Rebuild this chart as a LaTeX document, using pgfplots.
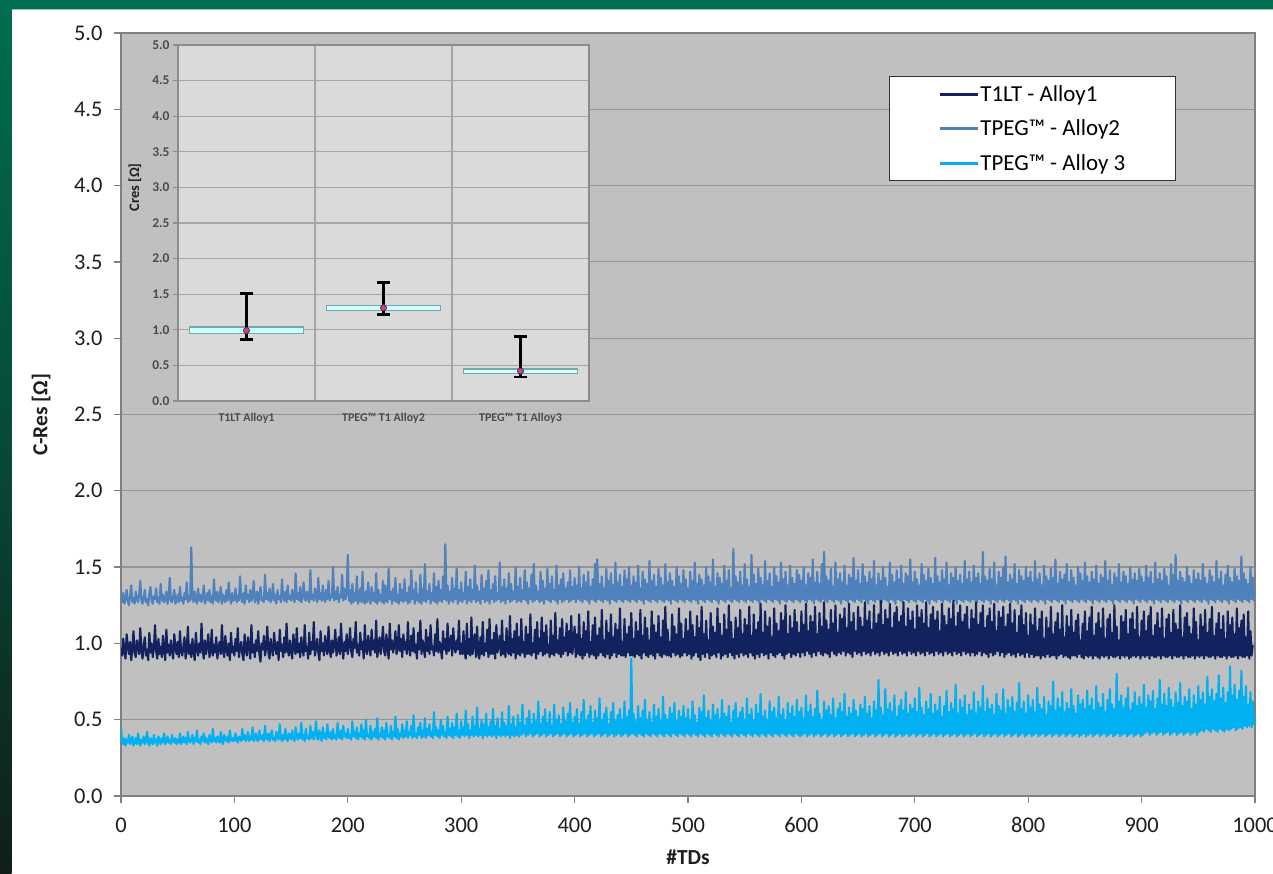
\documentclass[border=0pt]{standalone}
\usepackage{pgfplots}
\pgfplotsset{compat=1.18}
\usepackage{pgfplotstable}
\usepackage{fontspec}
\setmainfont{Carlito}

\definecolor{plotbg}{RGB}{192,192,192}
\definecolor{gridgray}{RGB}{148,148,148}
\definecolor{axisgray}{RGB}{128,128,128}
\definecolor{tickblack}{RGB}{30,30,30}
\definecolor{cone}{RGB}{18,34,94}
\definecolor{ctwo}{RGB}{79,129,189}
\definecolor{cthree}{RGB}{0,176,240}
\definecolor{insetbg}{RGB}{218,218,218}
\definecolor{insetborder}{RGB}{140,140,140}
\definecolor{insetgrid}{RGB}{165,165,165}
\definecolor{insettext}{RGB}{75,75,75}
\definecolor{boxfill}{RGB}{204,255,255}
\definecolor{boxborder}{RGB}{125,165,165}
\definecolor{meanred}{RGB}{255,70,0}
\definecolor{meanblue}{RGB}{40,60,200}
\definecolor{greenA}{RGB}{0,110,80}
\definecolor{greenB}{RGB}{16,30,26}
\definecolor{legendborder}{RGB}{50,50,50}

% Alloy2 (TPEG - Alloy2), one value per TD, x = 0,1,...,1000
\pgfplotstableread[row sep=\\, header=false]{
1.30\\1.27\\1.33\\1.26\\1.29\\1.35\\1.28\\1.25\\1.31\\1.38\\1.27\\1.30\\1.26\\1.34\\1.29\\1.27\\1.32\\1.41\\1.28\\1.26\\1.30\\1.35\\1.27\\1.29\\1.25\\1.33\\1.37\\1.28\\1.26\\1.31\\1.29\\1.36\\1.27\\1.30\\1.26\\1.39\\1.28\\1.32\\1.27\\1.29\\1.34\\1.26\\1.30\\1.43\\1.28\\1.27\\1.31\\1.35\\1.26\\1.29\\
1.32\\1.27\\1.37\\1.28\\1.30\\1.26\\1.33\\1.29\\1.40\\1.27\\1.31\\1.28\\1.63\\1.30\\1.27\\1.34\\1.29\\1.26\\1.36\\1.28\\1.32\\1.27\\1.30\\1.38\\1.26\\1.29\\1.33\\1.28\\1.35\\1.27\\1.31\\1.26\\1.42\\1.29\\1.28\\1.34\\1.27\\1.30\\1.37\\1.26\\1.32\\1.29\\1.27\\1.35\\1.28\\1.40\\1.30\\1.26\\1.33\\1.28\\
1.29\\1.36\\1.27\\1.31\\1.28\\1.44\\1.30\\1.27\\1.33\\1.26\\1.38\\1.29\\1.32\\1.27\\1.35\\1.28\\1.30\\1.41\\1.27\\1.29\\1.34\\1.26\\1.31\\1.37\\1.28\\1.30\\1.27\\1.45\\1.29\\1.33\\1.28\\1.36\\1.27\\1.30\\1.39\\1.28\\1.32\\1.26\\1.35\\1.29\\1.31\\1.27\\1.42\\1.30\\1.28\\1.34\\1.27\\1.38\\1.29\\1.31\\
1.28\\1.35\\1.30\\1.27\\1.46\\1.29\\1.33\\1.28\\1.37\\1.27\\1.31\\1.40\\1.29\\1.28\\1.34\\1.30\\1.27\\1.48\\1.29\\1.32\\1.28\\1.36\\1.30\\1.27\\1.43\\1.29\\1.33\\1.28\\1.38\\1.30\\1.27\\1.35\\1.29\\1.41\\1.28\\1.31\\1.30\\1.50\\1.28\\1.34\\1.29\\1.37\\1.27\\1.32\\1.30\\1.45\\1.28\\1.36\\1.29\\1.33\\
1.58\\1.28\\1.35\\1.26\\1.39\\1.27\\1.33\\1.28\\1.44\\1.26\\1.29\\1.36\\1.27\\1.47\\1.28\\1.26\\1.34\\1.27\\1.40\\1.29\\1.26\\1.37\\1.28\\1.33\\1.27\\1.46\\1.26\\1.35\\1.28\\1.32\\1.27\\1.41\\1.26\\1.38\\1.28\\1.27\\1.49\\1.29\\1.34\\1.26\\1.36\\1.28\\1.43\\1.27\\1.32\\1.26\\1.39\\1.28\\1.35\\1.27\\
1.42\\1.28\\1.33\\1.26\\1.37\\1.27\\1.48\\1.29\\1.35\\1.26\\1.40\\1.28\\1.32\\1.27\\1.45\\1.26\\1.36\\1.28\\1.52\\1.27\\1.34\\1.29\\1.39\\1.26\\1.33\\1.28\\1.46\\1.27\\1.37\\1.26\\1.41\\1.28\\1.35\\1.27\\1.44\\1.29\\1.65\\1.28\\1.38\\1.26\\1.34\\1.28\\1.43\\1.27\\1.36\\1.29\\1.49\\1.26\\1.35\\1.28\\
1.40\\1.27\\1.33\\1.29\\1.47\\1.26\\1.37\\1.28\\1.42\\1.27\\1.35\\1.29\\1.51\\1.27\\1.38\\1.28\\1.34\\1.26\\1.45\\1.29\\1.36\\1.27\\1.41\\1.28\\1.48\\1.26\\1.35\\1.29\\1.39\\1.27\\1.44\\1.28\\1.33\\1.29\\1.53\\1.27\\1.37\\1.28\\1.42\\1.26\\1.36\\1.29\\1.46\\1.27\\1.39\\1.28\\1.34\\1.29\\1.50\\1.27\\
1.37\\1.28\\1.43\\1.27\\1.35\\1.29\\1.48\\1.28\\1.40\\1.26\\1.36\\1.29\\1.45\\1.27\\1.52\\1.28\\1.38\\1.29\\1.34\\1.27\\1.47\\1.28\\1.41\\1.26\\1.36\\1.29\\1.49\\1.28\\1.39\\1.27\\1.44\\1.29\\1.35\\1.28\\1.51\\1.26\\1.38\\1.29\\1.42\\1.27\\1.46\\1.28\\1.36\\1.29\\1.40\\1.27\\1.48\\1.28\\1.37\\1.29\\
1.43\\1.27\\1.38\\1.29\\1.50\\1.28\\1.36\\1.27\\1.45\\1.29\\1.40\\1.28\\1.47\\1.26\\1.37\\1.29\\1.42\\1.28\\1.52\\1.27\\1.55\\1.29\\1.39\\1.28\\1.44\\1.27\\1.36\\1.29\\1.49\\1.28\\1.41\\1.26\\1.46\\1.29\\1.38\\1.28\\1.53\\1.27\\1.40\\1.29\\1.45\\1.28\\1.37\\1.27\\1.48\\1.29\\1.42\\1.28\\1.50\\1.27\\
1.38\\1.29\\1.44\\1.28\\1.40\\1.27\\1.51\\1.29\\1.36\\1.28\\1.47\\1.26\\1.42\\1.29\\1.39\\1.28\\1.54\\1.27\\1.41\\1.29\\1.45\\1.28\\1.37\\1.27\\1.49\\1.29\\1.43\\1.28\\1.38\\1.27\\1.52\\1.29\\1.40\\1.28\\1.46\\1.26\\1.41\\1.29\\1.37\\1.28\\1.50\\1.27\\1.44\\1.29\\1.39\\1.28\\1.48\\1.27\\1.42\\1.29\\
1.36\\1.28\\1.47\\1.27\\1.41\\1.29\\1.53\\1.28\\1.39\\1.26\\1.45\\1.29\\1.42\\1.28\\1.38\\1.27\\1.50\\1.29\\1.44\\1.28\\1.40\\1.27\\1.55\\1.29\\1.37\\1.28\\1.46\\1.26\\1.43\\1.29\\1.39\\1.28\\1.51\\1.27\\1.41\\1.29\\1.48\\1.28\\1.36\\1.27\\1.62\\1.29\\1.44\\1.28\\1.40\\1.27\\1.47\\1.29\\1.38\\1.28\\
1.52\\1.27\\1.42\\1.29\\1.37\\1.28\\1.58\\1.27\\1.45\\1.29\\1.39\\1.28\\1.49\\1.26\\1.43\\1.29\\1.38\\1.28\\1.54\\1.27\\1.41\\1.29\\1.46\\1.28\\1.37\\1.27\\1.50\\1.29\\1.44\\1.28\\1.40\\1.26\\1.53\\1.29\\1.42\\1.28\\1.47\\1.27\\1.38\\1.29\\1.51\\1.28\\1.43\\1.27\\1.39\\1.29\\1.48\\1.28\\1.45\\1.27\\
1.41\\1.29\\1.50\\1.28\\1.38\\1.27\\1.46\\1.29\\1.43\\1.28\\1.55\\1.26\\1.40\\1.29\\1.47\\1.28\\1.39\\1.27\\1.52\\1.29\\1.60\\1.28\\1.44\\1.27\\1.41\\1.29\\1.49\\1.28\\1.37\\1.27\\1.53\\1.29\\1.42\\1.28\\1.46\\1.26\\1.40\\1.29\\1.51\\1.28\\1.38\\1.27\\1.45\\1.29\\1.43\\1.28\\1.56\\1.27\\1.41\\1.29\\
1.48\\1.28\\1.39\\1.27\\1.52\\1.29\\1.44\\1.28\\1.40\\1.26\\1.47\\1.29\\1.42\\1.28\\1.54\\1.27\\1.38\\1.29\\1.46\\1.28\\1.41\\1.27\\1.50\\1.29\\1.43\\1.28\\1.37\\1.27\\1.53\\1.29\\1.45\\1.28\\1.40\\1.26\\1.48\\1.29\\1.42\\1.28\\1.51\\1.27\\1.39\\1.29\\1.46\\1.28\\1.44\\1.27\\1.55\\1.29\\1.40\\1.28\\
1.47\\1.27\\1.42\\1.29\\1.38\\1.28\\1.52\\1.27\\1.45\\1.29\\1.41\\1.28\\1.49\\1.26\\1.43\\1.29\\1.39\\1.28\\1.56\\1.27\\1.44\\1.29\\1.40\\1.28\\1.48\\1.27\\1.42\\1.29\\1.53\\1.28\\1.38\\1.27\\1.46\\1.29\\1.43\\1.28\\1.50\\1.26\\1.41\\1.29\\1.45\\1.28\\1.39\\1.27\\1.54\\1.29\\1.42\\1.28\\1.47\\1.27\\
1.40\\1.29\\1.51\\1.28\\1.43\\1.27\\1.46\\1.29\\1.39\\1.28\\1.60\\1.27\\1.44\\1.29\\1.41\\1.28\\1.49\\1.26\\1.42\\1.29\\1.53\\1.28\\1.38\\1.27\\1.47\\1.29\\1.43\\1.28\\1.50\\1.27\\1.57\\1.29\\1.40\\1.28\\1.45\\1.27\\1.42\\1.29\\1.52\\1.28\\1.39\\1.26\\1.48\\1.29\\1.44\\1.28\\1.41\\1.27\\1.50\\1.29\\
1.43\\1.28\\1.47\\1.27\\1.40\\1.29\\1.54\\1.28\\1.42\\1.27\\1.46\\1.29\\1.38\\1.28\\1.51\\1.26\\1.44\\1.29\\1.41\\1.28\\1.49\\1.27\\1.43\\1.29\\1.55\\1.28\\1.39\\1.27\\1.47\\1.29\\1.42\\1.28\\1.45\\1.26\\1.52\\1.29\\1.40\\1.28\\1.48\\1.27\\1.43\\1.29\\1.38\\1.28\\1.50\\1.27\\1.46\\1.29\\1.41\\1.28\\
1.53\\1.27\\1.44\\1.29\\1.40\\1.28\\1.47\\1.26\\1.42\\1.29\\1.51\\1.28\\1.39\\1.27\\1.45\\1.29\\1.43\\1.28\\1.54\\1.27\\1.41\\1.29\\1.48\\1.28\\1.38\\1.26\\1.46\\1.29\\1.43\\1.28\\1.52\\1.27\\1.40\\1.29\\1.47\\1.28\\1.44\\1.27\\1.39\\1.29\\1.50\\1.28\\1.42\\1.26\\1.46\\1.29\\1.41\\1.28\\1.49\\1.27\\
1.44\\1.29\\1.40\\1.28\\1.51\\1.27\\1.43\\1.29\\1.47\\1.28\\1.39\\1.26\\1.53\\1.29\\1.42\\1.28\\1.46\\1.27\\1.41\\1.29\\1.49\\1.28\\1.44\\1.27\\1.38\\1.29\\1.52\\1.28\\1.45\\1.27\\1.58\\1.29\\1.41\\1.28\\1.47\\1.26\\1.43\\1.29\\1.40\\1.28\\1.50\\1.27\\1.44\\1.29\\1.39\\1.28\\1.48\\1.27\\1.42\\1.29\\
1.46\\1.28\\1.41\\1.27\\1.52\\1.29\\1.43\\1.28\\1.39\\1.26\\1.48\\1.29\\1.44\\1.28\\1.40\\1.27\\1.54\\1.29\\1.42\\1.28\\1.47\\1.27\\1.38\\1.29\\1.45\\1.28\\1.51\\1.26\\1.43\\1.29\\1.40\\1.28\\1.49\\1.27\\1.44\\1.29\\1.41\\1.28\\1.57\\1.27\\1.46\\1.29\\1.42\\1.28\\1.39\\1.27\\1.50\\1.29\\1.43\\1.28\\
1.34\\
}\tabtwo

% Alloy1 (T1LT - Alloy1)
\pgfplotstableread[row sep=\\, header=false]{
0.97\\0.92\\1.03\\0.95\\0.90\\1.06\\0.98\\0.93\\1.01\\0.89\\0.96\\1.08\\0.94\\0.91\\1.02\\0.97\\0.93\\1.10\\0.95\\0.90\\0.99\\1.04\\0.92\\0.96\\0.89\\1.07\\0.94\\1.00\\0.91\\0.97\\1.12\\0.95\\0.90\\1.03\\0.93\\0.98\\0.91\\1.05\\0.96\\0.89\\1.09\\0.94\\0.99\\0.92\\1.02\\0.95\\0.90\\1.06\\0.97\\0.93\\
1.01\\0.91\\1.08\\0.95\\0.92\\0.98\\1.04\\0.90\\0.96\\1.11\\0.93\\0.99\\0.91\\1.03\\0.95\\0.89\\1.07\\0.97\\0.92\\1.00\\0.94\\1.13\\0.96\\0.90\\1.02\\0.93\\0.98\\1.06\\0.91\\0.95\\1.09\\0.92\\0.99\\0.94\\1.04\\0.90\\0.97\\1.01\\0.93\\1.12\\0.95\\0.91\\1.05\\0.96\\0.92\\1.00\\0.89\\1.07\\0.94\\0.98\\
0.92\\1.03\\0.95\\1.10\\0.91\\0.97\\1.01\\0.93\\0.89\\1.06\\0.96\\0.92\\1.04\\0.98\\0.90\\1.12\\0.94\\0.99\\0.91\\1.02\\0.95\\1.08\\0.93\\0.88\\1.00\\0.96\\1.05\\0.92\\0.97\\1.11\\0.94\\0.90\\1.03\\0.96\\0.92\\1.07\\0.98\\0.93\\1.01\\0.89\\1.09\\0.95\\0.99\\0.91\\1.04\\0.94\\1.13\\0.96\\0.92\\1.02\\
0.95\\0.90\\1.06\\0.97\\0.93\\1.10\\0.94\\1.00\\0.91\\1.04\\0.96\\0.92\\1.12\\0.95\\0.98\\0.90\\1.07\\0.93\\1.01\\0.96\\1.14\\0.92\\0.97\\1.03\\0.94\\0.89\\1.08\\0.95\\1.00\\0.92\\1.05\\0.97\\0.93\\1.11\\0.96\\0.91\\1.02\\0.94\\0.99\\1.09\\0.92\\0.96\\1.04\\0.93\\1.13\\0.97\\0.90\\1.01\\0.95\\1.06\\
0.93\\0.98\\1.10\\0.95\\0.91\\1.03\\0.97\\1.14\\0.94\\0.99\\0.92\\1.07\\0.96\\1.01\\0.90\\1.12\\0.95\\0.93\\1.05\\0.98\\0.92\\1.09\\0.96\\1.02\\0.94\\1.15\\0.91\\0.97\\1.04\\0.93\\1.00\\1.11\\0.95\\0.92\\1.06\\0.97\\0.90\\1.13\\0.96\\1.02\\0.94\\0.99\\1.08\\0.93\\0.97\\1.12\\0.95\\1.03\\0.91\\1.06\\
0.96\\1.01\\0.93\\1.14\\0.97\\0.92\\1.05\\0.95\\1.10\\0.94\\0.99\\0.90\\1.07\\0.96\\1.15\\0.93\\1.02\\0.97\\0.91\\1.09\\0.95\\1.04\\0.93\\1.12\\0.96\\0.98\\0.92\\1.06\\0.95\\1.16\\0.94\\1.01\\0.97\\0.90\\1.08\\0.96\\1.03\\0.93\\1.13\\0.95\\0.99\\1.05\\0.92\\1.10\\0.97\\0.94\\1.02\\0.96\\1.15\\0.93\\
1.00\\0.93\\1.08\\0.94\\0.90\\1.13\\0.93\\1.03\\0.92\\1.17\\0.93\\0.99\\1.06\\0.91\\1.11\\0.94\\0.90\\1.04\\0.93\\1.14\\0.92\\1.00\\0.95\\1.09\\0.91\\1.16\\0.93\\1.02\\0.93\\1.07\\0.90\\1.12\\0.94\\0.99\\1.05\\0.92\\1.15\\0.93\\1.01\\0.91\\1.10\\0.95\\0.93\\1.18\\0.92\\1.03\\0.94\\1.08\\0.90\\1.13\\
0.93\\1.04\\0.92\\1.16\\0.94\\1.01\\0.91\\1.11\\0.93\\1.06\\0.93\\1.19\\0.92\\1.00\\0.94\\1.09\\0.90\\1.14\\0.93\\1.03\\0.95\\1.17\\0.92\\1.07\\0.93\\1.12\\0.94\\0.99\\0.91\\1.15\\0.93\\1.05\\0.92\\1.20\\0.94\\1.02\\0.93\\1.10\\0.91\\1.16\\0.93\\1.04\\0.95\\1.13\\0.92\\1.08\\0.94\\1.18\\0.93\\1.01\\
1.11\\0.91\\1.06\\0.93\\1.19\\0.92\\1.03\\0.90\\1.14\\0.92\\1.08\\0.94\\1.21\\0.91\\1.01\\0.93\\1.12\\0.92\\1.17\\0.90\\1.05\\0.92\\1.10\\0.94\\1.22\\0.92\\1.02\\0.91\\1.15\\0.93\\1.07\\0.90\\1.19\\0.92\\1.04\\0.94\\1.13\\0.91\\1.09\\0.93\\1.23\\0.92\\1.01\\0.92\\1.16\\0.91\\1.06\\0.94\\1.11\\0.92\\
1.20\\0.92\\1.03\\0.91\\1.14\\0.93\\1.08\\0.92\\1.22\\0.90\\1.05\\0.94\\1.17\\0.92\\1.10\\0.91\\1.02\\0.93\\1.21\\0.92\\1.12\\0.90\\1.07\\0.94\\1.18\\0.92\\1.04\\0.91\\1.15\\0.93\\1.24\\0.92\\1.09\\0.92\\1.01\\0.91\\1.19\\0.94\\1.11\\0.92\\1.06\\0.93\\1.23\\0.91\\1.13\\0.92\\1.03\\0.94\\1.16\\0.92\\
1.08\\0.93\\1.21\\0.90\\1.12\\0.92\\1.04\\0.94\\1.18\\0.91\\1.10\\0.89\\1.24\\0.93\\1.06\\0.91\\1.15\\0.94\\1.02\\0.90\\1.20\\0.92\\1.11\\0.93\\1.07\\0.91\\1.23\\0.94\\1.13\\0.90\\1.05\\0.92\\1.19\\0.93\\1.09\\0.91\\1.25\\0.94\\1.14\\0.92\\1.03\\0.90\\1.17\\0.93\\1.10\\0.91\\1.22\\0.94\\1.06\\0.92\\
1.16\\0.93\\1.12\\0.91\\1.24\\0.94\\1.05\\0.92\\1.19\\0.90\\1.09\\0.93\\1.14\\0.91\\1.26\\0.94\\1.07\\0.92\\1.21\\0.93\\1.11\\0.90\\1.17\\0.94\\1.04\\0.92\\1.23\\0.91\\1.13\\0.93\\1.08\\0.94\\1.20\\0.92\\1.15\\0.90\\1.25\\0.93\\1.06\\0.94\\1.18\\0.91\\1.10\\0.93\\1.22\\0.92\\1.14\\0.94\\1.07\\0.91\\
1.21\\0.94\\1.12\\0.92\\1.26\\0.95\\1.08\\0.93\\1.18\\0.91\\1.14\\0.94\\1.24\\0.92\\1.06\\0.95\\1.20\\0.93\\1.11\\0.92\\1.27\\0.94\\1.15\\0.93\\1.09\\0.91\\1.22\\0.95\\1.13\\0.93\\1.25\\0.92\\1.07\\0.94\\1.19\\0.93\\1.16\\0.95\\1.23\\0.92\\1.10\\0.94\\1.26\\0.93\\1.14\\0.91\\1.20\\0.95\\1.08\\0.93\\
1.24\\0.94\\1.17\\0.92\\1.11\\0.95\\1.27\\0.93\\1.15\\0.94\\1.21\\0.92\\1.09\\0.95\\1.25\\0.93\\1.13\\0.94\\1.19\\0.92\\1.28\\0.95\\1.12\\0.93\\1.22\\0.94\\1.16\\0.92\\1.26\\0.95\\1.10\\0.93\\1.20\\0.94\\1.24\\0.92\\1.14\\0.95\\1.18\\0.93\\1.27\\0.94\\1.11\\0.92\\1.23\\0.95\\1.15\\0.93\\1.21\\0.94\\
1.09\\0.92\\1.25\\0.95\\1.17\\0.93\\1.22\\0.94\\1.13\\0.92\\1.27\\0.95\\1.10\\0.93\\1.19\\0.94\\1.24\\0.92\\1.15\\0.95\\1.21\\0.93\\1.08\\0.94\\1.26\\0.92\\1.18\\0.95\\1.12\\0.93\\1.23\\0.94\\1.16\\0.92\\1.28\\0.95\\1.11\\0.93\\1.20\\0.94\\1.25\\0.92\\1.14\\0.95\\1.19\\0.93\\1.24\\0.94\\1.09\\0.92\\
1.22\\0.94\\1.16\\0.92\\1.27\\0.93\\1.12\\0.95\\1.20\\0.92\\1.25\\0.94\\1.10\\0.93\\1.18\\0.91\\1.23\\0.94\\1.14\\0.92\\1.26\\0.93\\1.08\\0.95\\1.21\\0.92\\1.17\\0.94\\1.24\\0.91\\1.11\\0.93\\1.19\\0.94\\1.26\\0.92\\1.13\\0.93\\1.22\\0.91\\1.07\\0.94\\1.18\\0.92\\1.25\\0.93\\1.12\\0.91\\1.20\\0.94\\
1.05\\0.91\\1.19\\0.93\\1.12\\0.91\\1.23\\0.92\\1.08\\0.92\\1.16\\0.90\\1.21\\0.92\\1.03\\0.91\\1.17\\0.93\\1.10\\0.91\\1.24\\0.92\\1.06\\0.92\\1.14\\0.90\\1.20\\0.92\\1.09\\0.93\\1.25\\0.91\\1.04\\0.92\\1.18\\0.91\\1.11\\0.90\\1.22\\0.92\\1.07\\0.92\\1.15\\0.91\\1.19\\0.93\\1.02\\0.91\\1.13\\0.90\\
1.21\\0.92\\1.08\\0.91\\1.17\\0.92\\1.24\\0.90\\1.05\\0.92\\1.13\\0.91\\1.20\\0.90\\1.10\\0.92\\1.23\\0.91\\1.03\\0.92\\1.16\\0.90\\1.19\\0.92\\1.07\\0.91\\1.25\\0.91\\1.11\\0.92\\1.02\\0.90\\1.18\\0.92\\1.14\\0.91\\1.22\\0.92\\1.06\\0.90\\1.16\\0.91\\1.20\\0.92\\1.09\\0.91\\1.24\\0.92\\1.04\\0.90\\
1.15\\0.92\\1.21\\0.91\\1.08\\0.92\\1.18\\0.90\\1.24\\0.92\\1.05\\0.91\\1.12\\0.91\\1.20\\0.92\\1.10\\0.90\\1.23\\0.92\\1.03\\0.91\\1.16\\0.91\\1.19\\0.92\\1.07\\0.90\\1.22\\0.92\\1.13\\0.91\\1.09\\0.91\\1.25\\0.92\\1.04\\0.90\\1.17\\0.92\\1.20\\0.91\\1.11\\0.91\\1.06\\0.92\\1.23\\0.90\\1.14\\0.92\\
1.02\\0.91\\1.19\\0.92\\1.11\\0.90\\1.22\\0.92\\1.07\\0.91\\1.16\\0.91\\1.24\\0.92\\1.05\\0.90\\1.13\\0.92\\1.20\\0.91\\1.09\\0.91\\1.18\\0.92\\1.03\\0.90\\1.21\\0.92\\1.12\\0.91\\1.17\\0.91\\1.06\\0.92\\1.23\\0.90\\1.10\\0.92\\1.15\\0.91\\1.19\\0.91\\1.04\\0.92\\1.21\\0.90\\1.08\\0.92\\
0.99\\
}\tabone

% Alloy3 (TPEG - Alloy 3)
\pgfplotstableread[row sep=\\, header=false]{
0.45\\0.36\\0.34\\0.38\\0.33\\0.37\\0.35\\0.40\\0.34\\0.36\\0.39\\0.33\\0.35\\0.38\\0.34\\0.41\\0.36\\0.33\\0.37\\0.35\\0.39\\0.34\\0.36\\0.42\\0.35\\0.33\\0.38\\0.36\\0.34\\0.40\\0.35\\0.37\\0.33\\0.39\\0.36\\0.34\\0.38\\0.35\\0.41\\0.34\\0.36\\0.39\\0.35\\0.37\\0.34\\0.40\\0.36\\0.35\\0.38\\0.34\\
0.37\\0.35\\0.41\\0.34\\0.36\\0.39\\0.35\\0.38\\0.34\\0.42\\0.36\\0.35\\0.37\\0.40\\0.34\\0.38\\0.36\\0.43\\0.35\\0.37\\0.34\\0.39\\0.36\\0.41\\0.35\\0.38\\0.36\\0.34\\0.40\\0.37\\0.35\\0.44\\0.36\\0.38\\0.35\\0.39\\0.37\\0.35\\0.42\\0.36\\0.34\\0.40\\0.37\\0.36\\0.39\\0.35\\0.43\\0.37\\0.36\\0.38\\
0.36\\0.41\\0.37\\0.35\\0.39\\0.38\\0.36\\0.44\\0.37\\0.40\\0.36\\0.38\\0.42\\0.36\\0.39\\0.37\\0.45\\0.36\\0.38\\0.41\\0.37\\0.36\\0.43\\0.38\\0.37\\0.40\\0.36\\0.46\\0.38\\0.37\\0.41\\0.36\\0.39\\0.43\\0.37\\0.38\\0.36\\0.42\\0.39\\0.37\\0.47\\0.38\\0.36\\0.40\\0.37\\0.44\\0.38\\0.36\\0.41\\0.39\\
0.37\\0.43\\0.38\\0.36\\0.45\\0.39\\0.37\\0.41\\0.38\\0.48\\0.37\\0.40\\0.36\\0.44\\0.38\\0.39\\0.37\\0.46\\0.38\\0.42\\0.37\\0.40\\0.49\\0.38\\0.37\\0.43\\0.39\\0.36\\0.45\\0.38\\0.41\\0.37\\0.47\\0.39\\0.38\\0.42\\0.37\\0.44\\0.38\\0.40\\0.37\\0.48\\0.39\\0.38\\0.43\\0.37\\0.46\\0.39\\0.41\\0.38\\
0.44\\0.38\\0.40\\0.37\\0.49\\0.39\\0.42\\0.38\\0.45\\0.37\\0.41\\0.39\\0.47\\0.38\\0.43\\0.37\\0.50\\0.39\\0.40\\0.38\\0.46\\0.37\\0.42\\0.39\\0.44\\0.38\\0.51\\0.37\\0.41\\0.39\\0.45\\0.38\\0.43\\0.37\\0.48\\0.39\\0.40\\0.38\\0.46\\0.37\\0.42\\0.39\\0.52\\0.38\\0.44\\0.37\\0.41\\0.39\\0.47\\0.38\\
0.43\\0.39\\0.49\\0.38\\0.42\\0.40\\0.46\\0.38\\0.53\\0.39\\0.41\\0.38\\0.45\\0.40\\0.48\\0.38\\0.43\\0.39\\0.51\\0.38\\0.44\\0.40\\0.47\\0.39\\0.42\\0.38\\0.55\\0.40\\0.45\\0.39\\0.43\\0.38\\0.50\\0.40\\0.46\\0.39\\0.42\\0.38\\0.52\\0.40\\0.44\\0.39\\0.48\\0.38\\0.45\\0.40\\0.54\\0.39\\0.43\\0.38\\
0.49\\0.40\\0.45\\0.39\\0.56\\0.40\\0.47\\0.38\\0.43\\0.40\\0.52\\0.39\\0.46\\0.40\\0.58\\0.39\\0.44\\0.40\\0.50\\0.38\\0.47\\0.40\\0.54\\0.39\\0.45\\0.40\\0.49\\0.39\\0.57\\0.40\\0.46\\0.38\\0.51\\0.40\\0.44\\0.39\\0.55\\0.40\\0.48\\0.39\\0.46\\0.40\\0.59\\0.38\\0.47\\0.40\\0.52\\0.39\\0.45\\0.40\\
0.53\\0.39\\0.48\\0.40\\0.60\\0.41\\0.46\\0.39\\0.51\\0.40\\0.56\\0.41\\0.47\\0.39\\0.54\\0.40\\0.49\\0.41\\0.62\\0.39\\0.47\\0.40\\0.52\\0.41\\0.57\\0.39\\0.48\\0.40\\0.55\\0.41\\0.46\\0.39\\0.60\\0.40\\0.50\\0.41\\0.53\\0.39\\0.47\\0.40\\0.58\\0.41\\0.49\\0.39\\0.54\\0.40\\0.61\\0.41\\0.48\\0.39\\
0.52\\0.40\\0.57\\0.41\\0.47\\0.39\\0.55\\0.40\\0.63\\0.41\\0.49\\0.39\\0.53\\0.40\\0.59\\0.41\\0.48\\0.39\\0.56\\0.40\\0.51\\0.41\\0.64\\0.39\\0.50\\0.40\\0.54\\0.41\\0.58\\0.39\\0.47\\0.40\\0.55\\0.41\\0.61\\0.39\\0.49\\0.40\\0.53\\0.41\\0.57\\0.39\\0.50\\0.40\\0.62\\0.41\\0.52\\0.39\\0.56\\0.40\\
0.90\\0.41\\0.54\\0.40\\0.49\\0.39\\0.59\\0.41\\0.51\\0.40\\0.56\\0.39\\0.63\\0.41\\0.50\\0.40\\0.55\\0.39\\0.48\\0.41\\0.60\\0.40\\0.52\\0.39\\0.57\\0.41\\0.49\\0.40\\0.65\\0.39\\0.53\\0.41\\0.50\\0.40\\0.58\\0.39\\0.54\\0.41\\0.61\\0.40\\0.49\\0.39\\0.56\\0.41\\0.52\\0.40\\0.59\\0.39\\0.51\\0.41\\
0.57\\0.40\\0.50\\0.39\\0.62\\0.41\\0.53\\0.40\\0.48\\0.39\\0.58\\0.41\\0.55\\0.40\\0.66\\0.39\\0.51\\0.41\\0.56\\0.40\\0.49\\0.39\\0.60\\0.41\\0.53\\0.40\\0.57\\0.39\\0.50\\0.41\\0.63\\0.40\\0.54\\0.39\\0.52\\0.41\\0.59\\0.40\\0.48\\0.39\\0.56\\0.41\\0.61\\0.40\\0.51\\0.39\\0.55\\0.41\\0.58\\0.40\\
0.50\\0.39\\0.64\\0.41\\0.53\\0.40\\0.57\\0.39\\0.49\\0.41\\0.60\\0.40\\0.54\\0.39\\0.67\\0.41\\0.52\\0.40\\0.56\\0.39\\0.50\\0.41\\0.62\\0.40\\0.55\\0.39\\0.58\\0.41\\0.51\\0.40\\0.65\\0.39\\0.53\\0.41\\0.57\\0.40\\0.49\\0.39\\0.61\\0.41\\0.54\\0.40\\0.59\\0.39\\0.52\\0.41\\0.63\\0.40\\0.55\\0.39\\
0.58\\0.40\\0.51\\0.41\\0.66\\0.39\\0.55\\0.40\\0.60\\0.41\\0.52\\0.39\\0.57\\0.40\\0.69\\0.41\\0.54\\0.39\\0.50\\0.40\\0.62\\0.41\\0.56\\0.39\\0.59\\0.40\\0.53\\0.41\\0.64\\0.39\\0.51\\0.40\\0.57\\0.41\\0.61\\0.39\\0.55\\0.40\\0.67\\0.41\\0.52\\0.39\\0.58\\0.40\\0.54\\0.41\\0.63\\0.39\\0.56\\0.40\\
0.52\\0.41\\0.60\\0.39\\0.57\\0.40\\0.65\\0.41\\0.54\\0.39\\0.59\\0.40\\0.51\\0.41\\0.62\\0.39\\0.56\\0.40\\0.76\\0.41\\0.58\\0.39\\0.53\\0.40\\0.70\\0.41\\0.57\\0.39\\0.61\\0.40\\0.55\\0.41\\0.66\\0.39\\0.52\\0.40\\0.59\\0.41\\0.63\\0.39\\0.56\\0.40\\0.68\\0.41\\0.54\\0.39\\0.60\\0.40\\0.57\\0.41\\
0.64\\0.39\\0.55\\0.40\\0.71\\0.41\\0.58\\0.39\\0.53\\0.40\\0.62\\0.41\\0.57\\0.39\\0.67\\0.40\\0.54\\0.41\\0.60\\0.39\\0.56\\0.40\\0.65\\0.41\\0.52\\0.39\\0.59\\0.40\\0.69\\0.41\\0.55\\0.39\\0.61\\0.40\\0.57\\0.41\\0.73\\0.39\\0.54\\0.40\\0.63\\0.41\\0.58\\0.39\\0.66\\0.40\\0.53\\0.41\\0.60\\0.39\\
0.56\\0.40\\0.68\\0.41\\0.54\\0.39\\0.62\\0.40\\0.58\\0.41\\0.72\\0.39\\0.55\\0.40\\0.64\\0.41\\0.57\\0.39\\0.60\\0.40\\0.53\\0.41\\0.67\\0.39\\0.59\\0.40\\0.56\\0.41\\0.70\\0.39\\0.54\\0.40\\0.63\\0.41\\0.58\\0.39\\0.65\\0.40\\0.55\\0.41\\0.61\\0.39\\0.74\\0.40\\0.57\\0.41\\0.62\\0.39\\0.54\\0.40\\
0.66\\0.41\\0.58\\0.39\\0.63\\0.40\\0.55\\0.41\\0.71\\0.39\\0.60\\0.40\\0.57\\0.41\\0.65\\0.39\\0.53\\0.40\\0.62\\0.41\\0.59\\0.39\\0.75\\0.40\\0.56\\0.41\\0.64\\0.39\\0.58\\0.40\\0.68\\0.41\\0.55\\0.39\\0.61\\0.40\\0.57\\0.41\\0.70\\0.39\\0.59\\0.40\\0.54\\0.41\\0.66\\0.39\\0.60\\0.40\\0.63\\0.41\\
0.57\\0.39\\0.69\\0.40\\0.59\\0.41\\0.64\\0.39\\0.56\\0.40\\0.72\\0.41\\0.61\\0.39\\0.58\\0.40\\0.67\\0.41\\0.55\\0.39\\0.63\\0.40\\0.70\\0.41\\0.60\\0.39\\0.57\\0.40\\0.80\\0.41\\0.62\\0.39\\0.66\\0.40\\0.58\\0.41\\0.64\\0.39\\0.71\\0.40\\0.56\\0.41\\0.61\\0.39\\0.68\\0.40\\0.59\\0.41\\0.65\\0.39\\
0.60\\0.40\\0.73\\0.41\\0.58\\0.42\\0.66\\0.40\\0.62\\0.41\\0.69\\0.42\\0.57\\0.40\\0.64\\0.41\\0.76\\0.42\\0.60\\0.40\\0.67\\0.41\\0.59\\0.42\\0.71\\0.40\\0.63\\0.41\\0.58\\0.42\\0.68\\0.40\\0.61\\0.41\\0.74\\0.42\\0.59\\0.40\\0.65\\0.41\\0.62\\0.42\\0.70\\0.40\\0.57\\0.41\\0.66\\0.42\\0.60\\0.40\\
0.72\\0.42\\0.63\\0.43\\0.68\\0.42\\0.60\\0.44\\0.78\\0.43\\0.65\\0.42\\0.70\\0.44\\0.62\\0.43\\0.67\\0.42\\0.79\\0.44\\0.64\\0.43\\0.71\\0.42\\0.61\\0.44\\0.68\\0.43\\0.85\\0.44\\0.66\\0.45\\0.73\\0.43\\0.63\\0.44\\0.69\\0.45\\0.82\\0.44\\0.65\\0.46\\0.72\\0.45\\0.60\\0.46\\0.68\\0.45\\0.62\\0.47\\
0.52\\
}\tabthree

\begin{document}
\begin{tikzpicture}
% page background and slide frame
\path[use as bounding box] (0,0) rectangle (1273bp,874bp);
\fill[white] (0,0) rectangle (1273bp,874bp);
\shade[top color=greenA, bottom color=greenB, middle color=greenA!55!greenB] (0,0) rectangle (11.5bp,874bp);
\fill[greenA] (0,865bp) rectangle (1273bp,874bp);
\draw[greenA!40!white, line width=0.8bp] (11.5bp,864.6bp) -- (1273bp,864.6bp);

\begin{axis}[
  at={(121bp,78bp)}, anchor=south west,
  scale only axis, width=1134bp, height=763bp,
  xmin=0, xmax=1000, ymin=0, ymax=5,
  axis background/.style={fill=plotbg},
  axis line style={draw=axisgray, line width=1.3bp},
  xtick={0,100,200,300,400,500,600,700,800,900,1000},
  ytick={0,0.5,1,1.5,2,2.5,3,3.5,4,4.5,5},
  xtick pos=bottom, ytick pos=left,
  tick align=outside, major tick length=7bp,
  tick style={draw=axisgray, line width=1.3bp},
  ymajorgrids, grid style={draw=gridgray, line width=1.2bp},
  tick label style={font=\fontsize{22.5}{26}\selectfont, text=tickblack},
  yticklabel style={xshift=-8bp, /pgf/number format/.cd, fixed, fixed zerofill, precision=1, assume math mode=true},
  xticklabel style={yshift=-11bp, /pgf/number format/.cd, 1000 sep={}, assume math mode=true},
  xlabel={\#TDs}, ylabel={C-Res [Ω]},
  label style={font=\fontsize{21.5}{25}\selectfont\bfseries, text=tickblack},
  xlabel style={at={(axis description cs:0.5,-0.080)}, anchor=center},
  ylabel style={at={(axis description cs:-0.0705,0.5)}, anchor=center},
  legend image code/.code={\draw[#1, line width=3bp] (0bp,0bp) -- (38bp,0bp);},
  legend cell align=left,
  legend style={at={(0.6772,0.9436)}, anchor=north west, draw=legendborder, line width=1bp,
    fill=white, font=\fontsize{23}{26}\selectfont, inner xsep=49bp, inner ysep=6bp,
    row sep=11bp, nodes={inner xsep=1bp, inner ysep=3bp}},
]
\addlegendimage{cone}\addlegendentry{T1LT - Alloy1}
\addlegendimage{ctwo}\addlegendentry{TPEG™ - Alloy2}
\addlegendimage{cthree}\addlegendentry{TPEG™ - Alloy 3}
\addplot[forget plot, cthree, line width=2.1bp, line join=round] table[x expr=\coordindex, y index=0] {\tabthree};
\addplot[forget plot, ctwo, line width=2.1bp, line join=round] table[x expr=\coordindex, y index=0] {\tabtwo};
\addplot[forget plot, cone, line width=2.1bp, line join=round] table[x expr=\coordindex, y index=0] {\tabone};
\end{axis}

% inset chart area
\fill[plotbg] (122.5bp,465bp) rectangle (590bp,839.4bp);

\begin{axis}[
  at={(178bp,473bp)}, anchor=south west,
  scale only axis, width=411bp, height=356bp,
  xmin=0.5, xmax=3.5, ymin=0, ymax=5,
  axis background/.style={fill=insetbg},
  axis line style={draw=insetborder, line width=1.5bp},
  ytick={0,0.5,1,1.5,2,2.5,3,3.5,4,4.5,5},
  xtick={1,2,3},
  xticklabels={T1LT Alloy1, TPEG™ T1 Alloy2, TPEG™ T1 Alloy3},
  minor xtick={0.5,1.5,2.5,3.5},
  xtick pos=bottom, ytick pos=left,
  tick align=outside, major tick length=5bp, minor tick length=5bp,
  xtick style={draw=none},
  ytick style={draw=insetborder, line width=1.2bp},
  minor tick style={draw=insetborder, line width=1.2bp},
  ymajorgrids, xminorgrids,
  grid style={draw=insetgrid, line width=1.1bp},
  minor grid style={draw=insetgrid, line width=1.1bp},
  yticklabel style={font=\fontsize{13.5}{15}\selectfont\bfseries, text=insettext, /pgf/number format/.cd, fixed, fixed zerofill, precision=1, assume math mode=true},
  xticklabel style={font=\fontsize{12}{14}\selectfont\bfseries, text=insettext, yshift=-4bp},
  ylabel={Cres [Ω]},
  ylabel style={font=\fontsize{14.5}{16}\selectfont\bfseries, text=tickblack, at={(axis description cs:-0.105,0.60)}, anchor=center},
]
% boxes
\addplot[draw=boxborder, fill=boxfill, line width=1.2bp] coordinates {(0.583,0.95) (1.417,0.95) (1.417,1.04) (0.583,1.04)} -- cycle;
\addplot[draw=boxborder, fill=boxfill, line width=1.2bp] coordinates {(1.583,1.275) (2.417,1.275) (2.417,1.345) (1.583,1.345)} -- cycle;
\addplot[draw=boxborder, fill=boxfill, line width=1.2bp] coordinates {(2.583,0.385) (3.417,0.385) (3.417,0.45) (2.583,0.45)} -- cycle;
% whiskers
\addplot[black, line width=2.6bp] coordinates {(1,0.86) (1,1.51)};
\addplot[black, line width=2.6bp] coordinates {(0.955,1.51) (1.045,1.51)};
\addplot[black, line width=2.6bp] coordinates {(0.955,0.86) (1.045,0.86)};
\addplot[black, line width=2.6bp] coordinates {(2,1.215) (2,1.665)};
\addplot[black, line width=2.6bp] coordinates {(1.955,1.665) (2.045,1.665)};
\addplot[black, line width=2.6bp] coordinates {(1.955,1.215) (2.045,1.215)};
\addplot[black, line width=2.6bp] coordinates {(3,0.335) (3,0.91)};
\addplot[black, line width=2.6bp] coordinates {(2.955,0.91) (3.045,0.91)};
\addplot[black, line width=2.6bp] coordinates {(2.955,0.335) (3.045,0.335)};
% means
\addplot[only marks, mark=*, mark size=3bp, mark options={fill=meanred, draw=meanblue, line width=1bp}] coordinates {(1,0.99) (2,1.31) (3,0.42)};
\end{axis}
\end{tikzpicture}
\end{document}
